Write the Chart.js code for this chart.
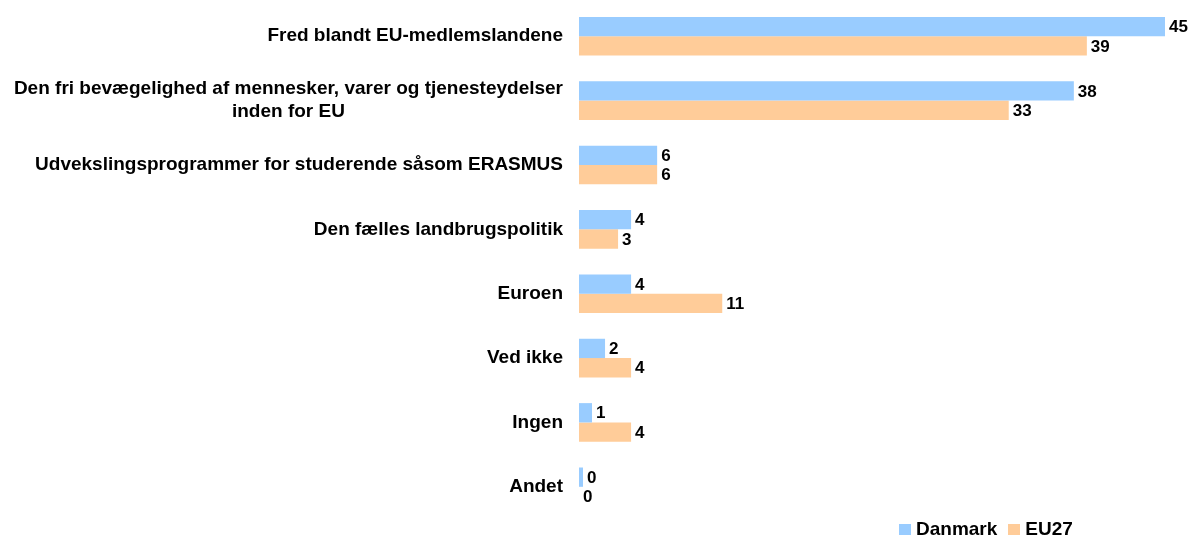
<!DOCTYPE html>
<html>
<head>
<meta charset="utf-8">
<script src="https://cdn.jsdelivr.net/npm/chart.js@4"></script>
<style>
  html, body { margin: 0; padding: 0; background: #fff; }
  #wrap { position: relative; width: 1191px; height: 535px; overflow: hidden; }
  #legend { position: absolute; left: 899px; top: 518px; font: bold 19px "Liberation Sans", Arial, sans-serif; color: #000; white-space: nowrap; line-height: 22px; }
  #legend span.box { display: inline-block; width: 12px; height: 12px; margin-right: 5px; vertical-align: -1px; }
  #legend span.item { margin-right: 11px; }
</style>
</head>
<body>
<div id="wrap">
  <canvas id="barChart" width="1191" height="535"></canvas>
  <div id="legend"></div>
</div>
<script>
const categories = [
    ['Fred blandt EU-medlemslandene'],
    ['Den fri bevægelighed af mennesker, varer og tjenesteydelser', 'inden for EU'],
    ['Udvekslingsprogrammer for studerende såsom ERASMUS'],
    ['Den fælles landbrugspolitik'],
    ['Euroen'],
    ['Ved ikke'],
    ['Ingen'],
    ['Andet']
];
const danmark = [45, 38, 6, 4, 4, 2, 1, 0];
const eu27 = [39, 33, 6, 3, 11, 4, 4, 0];
const seriesNames = ['Danmark', 'EU27'];
const seriesColors = ['#99CCFF', '#FFCC99'];

const FONT = '"Liberation Sans", Arial, sans-serif';
const ctx = document.getElementById('barChart').getContext('2d');

// category labels: block right-aligned, lines centred within the block
const categoryLabels = {
    id: 'categoryLabels',
    afterDraw(chart) {
        const c = chart.ctx;
        const yScale = chart.scales.y;
        const right = chart.chartArea.left - 16;
        c.save();
        c.font = 'bold 19px ' + FONT;
        c.fillStyle = '#000';
        c.textBaseline = 'middle';
        c.textAlign = 'center';
        categories.forEach((lines, i) => {
            const y = yScale.getPixelForValue(i);
            const maxW = Math.max(...lines.map(l => c.measureText(l).width));
            const cx = right - maxW / 2;
            const lh = 23;
            lines.forEach((l, j) => {
                c.fillText(l, cx, y + (j - (lines.length - 1) / 2) * lh);
            });
        });
        c.restore();
    }
};

// value labels at the end of each bar
const valueLabels = {
    id: 'valueLabels',
    afterDatasetsDraw(chart) {
        const c = chart.ctx;
        c.save();
        c.font = 'bold 17px ' + FONT;
        c.fillStyle = '#000';
        c.textBaseline = 'middle';
        c.textAlign = 'left';
        chart.data.datasets.forEach((ds, di) => {
            const meta = chart.getDatasetMeta(di);
            meta.data.forEach((bar, i) => {
                const x = Math.max(bar.x, chart.chartArea.left) + 4;
                c.fillText(String(ds.data[i]), x, bar.y + 1);
            });
        });
        c.restore();
    }
};

new Chart(ctx, {
    type: 'bar',
    data: {
        labels: categories.map(l => l.join(' ')),
        datasets: [
            { label: seriesNames[0], data: danmark, backgroundColor: seriesColors[0], minBarLength: 4 },
            { label: seriesNames[1], data: eu27, backgroundColor: seriesColors[1] }
        ]
    },
    options: {
        indexAxis: 'y',
        responsive: false,
        animation: false,
        layout: { padding: { top: 4, bottom: 16, right: 26, left: 0 } },
        datasets: {
            bar: { categoryPercentage: 0.6, barPercentage: 1 }
        },
        plugins: {
            legend: { display: false },
            tooltip: { enabled: false }
        },
        scales: {
            x: {
                min: 0,
                max: 45,
                display: false
            },
            y: {
                grid: { display: false },
                border: { display: false },
                ticks: { display: false },
                afterFit: s => { s.width = 579; }
            }
        }
    },
    plugins: [categoryLabels, valueLabels]
});

document.getElementById('legend').innerHTML = seriesNames.map((n, i) =>
    '<span class="item"><span class="box" style="background:' + seriesColors[i] + '"></span>' + n + '</span>'
).join('');
</script>
</body>
</html>
